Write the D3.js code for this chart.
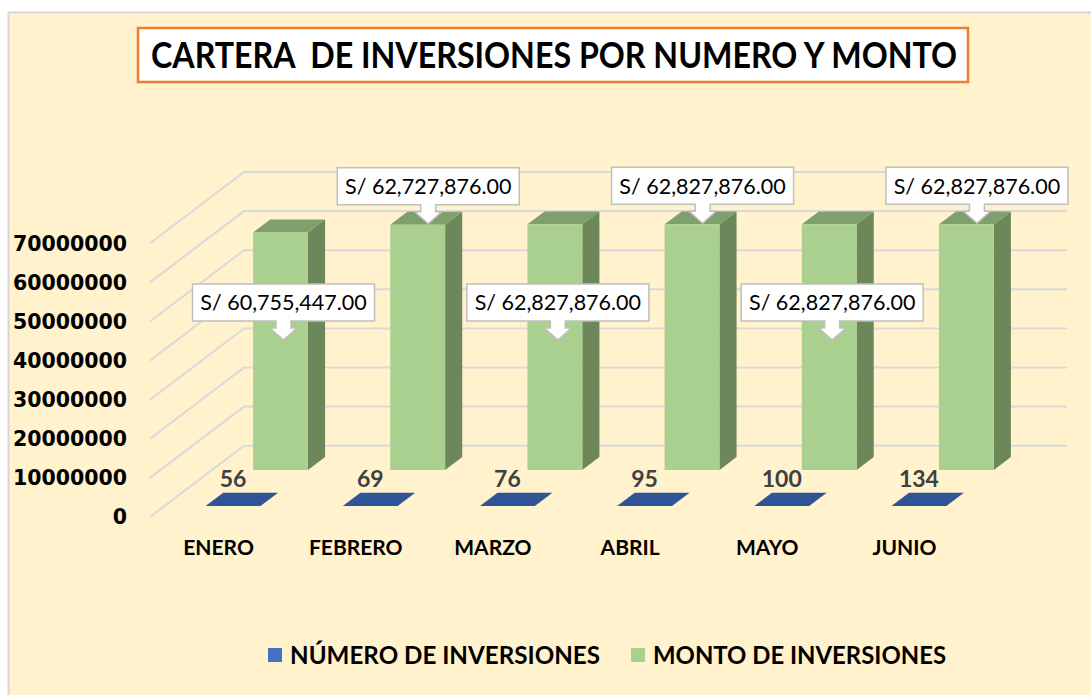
<!DOCTYPE html>
<html>
<head>
<meta charset="utf-8">
<script src="https://cdn.jsdelivr.net/npm/d3@7"></script>
<style>
  body { margin: 0; background: #ffffff; }
  svg { display: block; }
</style>
</head>
<body>
<svg id="chart" width="1091" height="695"></svg>
<script>
// data
const months = ['ENERO', 'FEBRERO', 'MARZO', 'ABRIL', 'MAYO', 'JUNIO']
const numeroInversiones = [56, 69, 76, 95, 100, 134]
const montoInversiones = [60755447, 62727876, 62827876, 62827876, 62827876, 62827876]
const yTicks = [0, 10000000, 20000000, 30000000, 40000000, 50000000, 60000000, 70000000]
const seriesNames = ['NÚMERO DE INVERSIONES', 'MONTO DE INVERSIONES']
const titleText = 'CARTERA  DE INVERSIONES POR NUMERO Y MONTO'

// layout
const floorY = 517 // y of value 0 on the front edge
const depthX = 94 // full depth offset of the 3d box
const depthY = 71.3
const blueDepth = [0.154, 0.341]
const greenDepth = [0.659, 0.841]

const svg = d3.select('#chart')

const x = d3.scaleBand()
  .domain(months)
  .range([150, 973])
  .paddingInner(0.6)
  .paddingOuter(0.3)

const h = d3.scaleLinear()
  .domain([0, 70000000])
  .range([0, 273.7])

// project a point: front x, height in px, depth 0..1
function px (xf, d) { return xf + depthX * d }
function py (hh, d) { return floorY - depthY * d - hh }

// chart area
svg.append('rect')
  .attr('x', 8.5).attr('y', 12.5)
  .attr('width', 1100).attr('height', 700)
  .attr('fill', '#FFF2CC')
  .attr('stroke', '#D6D6D6')
  .attr('stroke-width', 2)

// title
svg.append('rect')
  .attr('x', 138).attr('y', 28)
  .attr('width', 830).attr('height', 54)
  .attr('fill', '#ffffff')
  .attr('stroke', '#ED7D31')
  .attr('stroke-width', 2.5)

svg.append('text')
  .attr('x', 151).attr('y', 68)
  .attr('textLength', 806)
  .attr('lengthAdjust', 'spacingAndGlyphs')
  .style('font-family', 'Lato, sans-serif')
  .style('font-weight', 'bold')
  .style('font-size', '36px')
  .style('white-space', 'pre')
  .attr('fill', '#000')
  .text(titleText)

// gridlines: side wall + back wall
const plotRight = x.range()[1] + depthX
svg.append('g').selectAll('path')
  .data(yTicks)
  .enter()
  .append('path')
  .attr('d', function (t) {
    let hh = h(t)
    return 'M ' + px(150, 0) + ' ' + py(hh, 0) +
      ' L ' + px(150, 1) + ' ' + py(hh, 1) +
      ' L ' + plotRight + ' ' + py(hh, 1)
  })
  .attr('fill', 'none')
  .attr('stroke', '#D9D9D9')
  .attr('stroke-width', 2)

// y axis labels
svg.append('g').selectAll('text')
  .data(yTicks)
  .enter()
  .append('text')
  .attr('x', 127)
  .attr('y', function (t) { return py(h(t), 0) })
  .attr('dy', '0.36em')
  .attr('text-anchor', 'end')
  .style('font-family', '"DejaVu Sans", sans-serif')
  .style('font-weight', 'bold')
  .style('font-size', '20.5px')
  .attr('fill', '#000')
  .text(function (t) { return t })

// blue series (flat, almost zero height)
const blue = svg.append('g')
blue.selectAll('path')
  .data(numeroInversiones)
  .enter()
  .append('path')
  .attr('d', function (v, i) {
    let x0 = x(months[i])
    let x1 = x0 + x.bandwidth()
    let hh = h(v)
    let d0 = blueDepth[0]
    let d1 = blueDepth[1]
    return 'M ' + px(x0, d0) + ' ' + py(hh, d0) +
      ' L ' + px(x1, d0) + ' ' + py(hh, d0) +
      ' L ' + px(x1, d1) + ' ' + py(hh, d1) +
      ' L ' + px(x0, d1) + ' ' + py(hh, d1) + ' Z'
  })
  .attr('fill', '#2F5597')

blue.selectAll('text')
  .data(numeroInversiones)
  .enter()
  .append('text')
  .attr('x', function (v, i) { return px(x(months[i]) + x.bandwidth() / 2, blueDepth[0]) })
  .attr('y', 487)
  .attr('text-anchor', 'middle')
  .style('font-family', 'Lato, sans-serif')
  .style('font-weight', 'bold')
  .style('font-size', '23px')
  .attr('fill', '#404040')
  .text(function (v) { return v })

// green series, 3d columns
const bars = svg.append('g').selectAll('g')
  .data(montoInversiones)
  .enter()
  .append('g')

function face (pts) {
  return 'M ' + pts.map(function (p) { return p[0] + ' ' + p[1] }).join(' L ') + ' Z'
}

bars.each(function (v, i) {
  let g = d3.select(this)
  let x0 = x(months[i])
  let x1 = x0 + x.bandwidth()
  let hh = h(v)
  let d0 = greenDepth[0]
  let d1 = greenDepth[1]
  // side
  g.append('path')
    .attr('d', face([[px(x1, d0), py(0, d0)], [px(x1, d1), py(0, d1)], [px(x1, d1), py(hh, d1)], [px(x1, d0), py(hh, d0)]]))
    .attr('fill', '#6C8759')
  // top
  g.append('path')
    .attr('d', face([[px(x0, d0), py(hh, d0)], [px(x1, d0), py(hh, d0)], [px(x1, d1), py(hh, d1)], [px(x0, d1), py(hh, d1)]]))
    .attr('fill', '#80A06B')
  // front
  g.append('path')
    .attr('d', face([[px(x0, d0), py(0, d0)], [px(x1, d0), py(0, d0)], [px(x1, d0), py(hh, d0)], [px(x0, d0), py(hh, d0)]]))
    .attr('fill', '#A9D08E')
})

// callouts: above the column for even months, inside for odd ones
const fmt = d3.format(',.2f')
const boxW = 182
const boxH = 37

const callouts = svg.append('g').selectAll('g')
  .data(montoInversiones)
  .enter()
  .append('g')

callouts.each(function (v, i) {
  let g = d3.select(this)
  let xc = x(months[i]) + x.bandwidth() / 2
  let tipX, tipY
  if (i % 2 === 1) {
    tipX = px(xc, (greenDepth[0] + greenDepth[1]) / 2) + 2
    tipY = py(h(v), greenDepth[0]) - 1
  } else {
    tipX = px(xc, greenDepth[0]) + 3
    tipY = 340
  }
  let bottom = tipY - 19
  let top = bottom - boxH
  let left = tipX - boxW / 2
  let right = tipX + boxW / 2
  let path = 'M ' + left + ' ' + top + ' H ' + right + ' V ' + bottom +
    ' H ' + (tipX + 7.5) + ' V ' + (bottom + 7) + ' H ' + (tipX + 13.5) +
    ' L ' + tipX + ' ' + tipY + ' L ' + (tipX - 13.5) + ' ' + (bottom + 7) +
    ' H ' + (tipX - 7.5) + ' V ' + bottom + ' H ' + left + ' Z'
  g.append('path')
    .attr('d', path)
    .attr('fill', '#ffffff')
    .attr('stroke', '#BFBFBF')
    .attr('stroke-width', 1.5)
  g.append('text')
    .attr('x', tipX)
    .attr('y', top + boxH / 2)
    .attr('dy', '0.36em')
    .attr('text-anchor', 'middle')
    .style('font-family', 'Lato, sans-serif')
    .style('font-size', '21.5px')
    .attr('fill', '#000')
    .text('S/ ' + fmt(v))
})

// category labels
svg.append('g').selectAll('text')
  .data(months)
  .enter()
  .append('text')
  .attr('x', function (m) { return x(m) + x.bandwidth() / 2 })
  .attr('y', 555)
  .attr('text-anchor', 'middle')
  .style('font-family', 'Lato, sans-serif')
  .style('font-weight', 'bold')
  .style('font-size', '21px')
  .attr('fill', '#000')
  .text(function (m) { return m })

// legend
const legendColors = ['#4472C4', '#A9D18E']
const legendX = [268, 631]
const legendW = [310, 293]
const legend = svg.append('g').selectAll('g')
  .data(seriesNames)
  .enter()
  .append('g')

legend.append('rect')
  .attr('x', function (d, i) { return legendX[i] })
  .attr('y', 648)
  .attr('width', 14).attr('height', 14)
  .attr('fill', function (d, i) { return legendColors[i] })

legend.append('text')
  .attr('x', function (d, i) { return legendX[i] + 22 })
  .attr('y', 664)
  .attr('textLength', function (d, i) { return legendW[i] })
  .attr('lengthAdjust', 'spacingAndGlyphs')
  .style('font-family', 'Lato, sans-serif')
  .style('font-weight', 'bold')
  .style('font-size', '25px')
  .attr('fill', '#000')
  .text(function (d) { return d })
</script>
</body>
</html>
